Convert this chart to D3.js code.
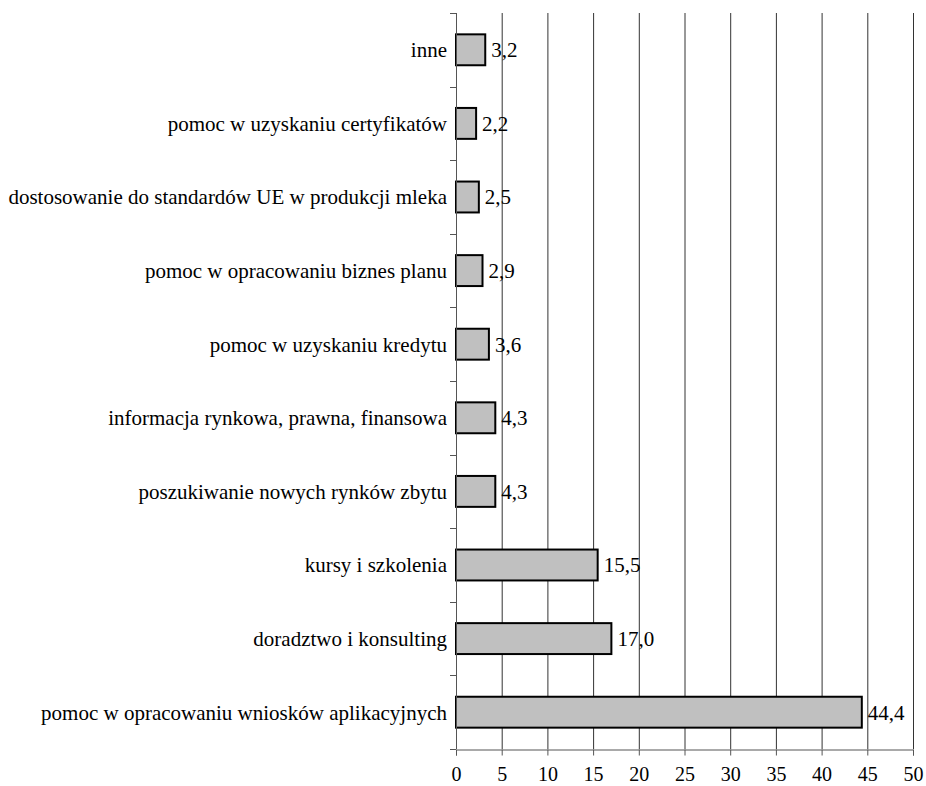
<!DOCTYPE html>
<html>
<head>
<meta charset="utf-8">
<script src="https://cdn.jsdelivr.net/npm/d3@7"></script>
<style>
  body { margin: 0; background: #fff; }
</style>
</head>
<body>
<svg></svg>
<script>
// dane z wykresu (od góry do dołu)
const categories = [
    "inne",
    "pomoc w uzyskaniu certyfikatów",
    "dostosowanie do standardów UE w produkcji mleka",
    "pomoc w opracowaniu biznes planu",
    "pomoc w uzyskaniu kredytu",
    "informacja rynkowa, prawna, finansowa",
    "poszukiwanie nowych rynków zbytu",
    "kursy i szkolenia",
    "doradztwo i konsulting",
    "pomoc w opracowaniu wniosków aplikacyjnych"
];
const values = [3.2, 2.2, 2.5, 2.9, 3.6, 4.3, 4.3, 15.5, 17.0, 44.4];
const xTicks = [0, 5, 10, 15, 20, 25, 30, 35, 40, 45, 50];

let width = 926,
    height = 786;

const mLeft = 456, mRight = 913, mTop = 13, mBottom = 749;
const font = "'Liberation Serif', 'Times New Roman', serif";

const svg = d3.select("svg")
    .attr("width", width)
    .attr("height", height)
    .attr("font-family", font);

const x = d3.scaleLinear().domain([0, 50]).range([mLeft, mRight]);
const y = d3.scaleBand().domain(categories).range([mTop, mBottom]).paddingInner(0.58).paddingOuter(0.29);
const yb = d3.scaleBand().domain(categories).range([mTop, mBottom]);

// pionowe linie siatki
svg.append("g").attr("class", "grid")
    .selectAll("line")
    .data(xTicks.slice(1))
    .enter()
    .append("line")
    .attr("x1", d => x(d) + 0.5)
    .attr("x2", d => x(d) + 0.5)
    .attr("y1", mTop)
    .attr("y2", mBottom)
    .attr("stroke", "#333")
    .attr("stroke-width", 1);

// słupki
svg.append("g").attr("class", "bars")
    .selectAll("rect")
    .data(values)
    .enter()
    .append("rect")
    .attr("x", x(0))
    .attr("y", (d, i) => y(categories[i]))
    .attr("width", d => x(d) - x(0))
    .attr("height", y.bandwidth())
    .attr("fill", "#c0c0c0")
    .attr("stroke", "#000")
    .attr("stroke-width", 2);

// wartości
svg.append("g").attr("class", "valueLabels")
    .selectAll("text")
    .data(values)
    .enter()
    .append("text")
    .attr("x", d => x(d) + 6)
    .attr("y", (d, i) => y(categories[i]) + y.bandwidth() / 2)
    .attr("dy", "0.35em")
    .attr("font-size", 21)
    .text(d => d.toFixed(1).replace(".", ","));

// oś pionowa z kreskami między kategoriami
const yAxis = svg.append("g").attr("class", "yAxis");
yAxis.append("line")
    .attr("x1", mLeft + 0.5).attr("x2", mLeft + 0.5)
    .attr("y1", mTop).attr("y2", mBottom)
    .attr("stroke", "#555");
yAxis.selectAll("line.tick")
    .data(categories.concat(["end"]))
    .enter()
    .append("line")
    .attr("class", "tick")
    .attr("x1", mLeft - 6).attr("x2", mLeft)
    .attr("y1", (d, i) => Math.round(mTop + i * yb.step()) + 0.5)
    .attr("y2", (d, i) => Math.round(mTop + i * yb.step()) + 0.5)
    .attr("stroke", "#555");

// etykiety kategorii
svg.append("g").attr("class", "categoryLabels")
    .selectAll("text")
    .data(categories)
    .enter()
    .append("text")
    .attr("x", mLeft - 9)
    .attr("y", d => yb(d) + yb.bandwidth() / 2)
    .attr("dy", "0.35em")
    .attr("text-anchor", "end")
    .attr("font-size", 21)
    .text(d => d);

// oś pozioma
const xAxis = svg.append("g")
    .attr("transform", `translate(0,${mBottom + 0.5})`)
    .call(d3.axisBottom(x).tickValues(xTicks).tickSize(6).tickPadding(11))
    .attr("font-family", font)
    .attr("font-size", 20);
xAxis.select(".domain").attr("stroke", "#555");
xAxis.selectAll(".tick line").attr("stroke", "#555");
xAxis.selectAll(".tick text").attr("fill", "#000");
</script>
</body>
</html>
